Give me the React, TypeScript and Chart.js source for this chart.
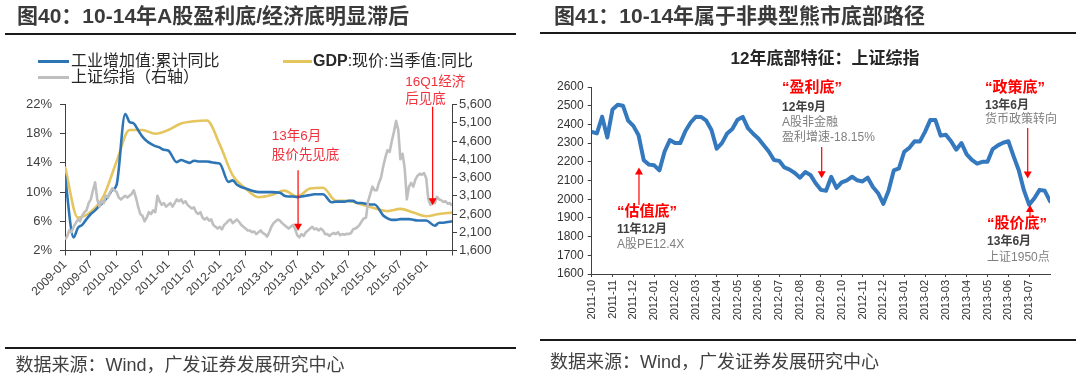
import React, { useEffect, useRef } from "react";
import { Chart, registerables } from "chart.js";

Chart.register(...registerables);

const FONT = "'Liberation Sans', 'Noto Sans CJK SC', sans-serif";

// ---------------- 图40 data (x = months since 2009-01) ----------------
const leftTickLabels = [
  "2009-01", "2009-07", "2010-01", "2010-07", "2011-01", "2011-07", "2012-01", "2012-07",
  "2013-01", "2013-07", "2014-01", "2014-07", "2015-01", "2015-07", "2016-01",
];

// 工业增加值:累计同比 (monthly, %)
const ivaCumYoY: (number | null)[] = [
  12.2, null, 3.8, 5.1, 5.5, 6.3, 7.0, 7.5, 8.1, 8.7, 9.4, 10.3,
  11.0, null, 20.7, 19.6, 19.4, 18.5, 17.6, 17.0, 16.6, 16.3, 16.1, 15.8,
  15.7, null, 14.1, 14.4, 14.2, 14.0, 14.3, 14.2, 14.2, 14.2, 14.1, 14.0,
  13.9, null, 11.4, 11.6, 11.0, 10.7, 10.5, 10.3, 10.1, 10.0, 10.0, 10.0,
  10.0, null, 9.9, 9.5, 9.4, 9.4, 9.3, 9.4, 9.5, 9.6, 9.7, 9.7,
  9.7, null, 8.6, 8.7, 8.7, 8.7, 8.8, 8.8, 8.5, 8.5, 8.4, 8.3,
  8.3, null, 6.8, 6.4, 6.2, 6.2, 6.3, 6.3, 6.3, 6.2, 6.1, 6.1,
  6.1, null, 5.4, 5.8, 5.8, 5.9, 6.0,
];

// GDP:现价:当季值:同比 (quarterly, %), every 3 months
const gdpNominalYoY = [
  13.5, 6.5, 7.3, 9.5, 14.2, 18.5, 18.5, 18.0, 18.5, 19.4, 19.7,
  19.8, 16.5, 12.3, 10.5, 9.3, 9.6, 10.2, 9.4, 10.5, 10.6, 8.8,
  8.8, 8.3, 7.8, 7.4, 7.7, 7.2, 6.7, 7.0, 7.2,
];

// 上证综指 (half-month steps)
const sseHalfMonthly = [
  1900, 1990, 2150, 2100, 2250, 2350, 2450, 2400, 2550, 2650, 2700, 2900,
  3000, 3250, 3470, 3000, 2800, 2950, 2900, 3100, 3050, 3200, 3300, 3250,
  3200, 3050, 3000, 3050, 3100, 3050, 3100, 3150, 3250, 3050, 2800, 2600,
  2550, 2400, 2500, 2650, 2600, 2700, 2650, 3100, 2950, 2850, 2900, 2800,
  2850, 2900, 2800, 2900, 3000, 2950, 3000, 2900, 2950, 2850, 2800, 2750,
  2780, 2650, 2600, 2650, 2500, 2450, 2500, 2420, 2450, 2300, 2250, 2200,
  2250, 2180, 2300, 2350, 2420, 2450, 2350, 2400, 2450, 2380, 2300, 2250,
  2200, 2150, 2150, 2100, 2120, 2050, 2100, 2150, 2080, 2050, 1980, 2100,
  2250, 2350, 2400, 2450, 2420, 2350, 2300, 2250, 2200, 2250, 2300, 2200,
  2020, 1960, 2050, 2000, 2100, 2150, 2200, 2250, 2180, 2200, 2150, 2200,
  2150, 2050, 2050, 2000, 2050, 2080, 2050, 2100, 2020, 2050, 2030, 2060,
  2050, 2080, 2180, 2200, 2240, 2300, 2400, 2480, 2500, 2950, 3150, 3350,
  3250, 3250, 3450, 3600, 3900, 4150, 4350, 4300, 4600, 4850, 5150, 4900,
  4100, 4250, 3850, 3000, 3350, 3450, 3350, 3550, 3650, 3700, 3680, 3720,
  3580, 3000, 2850, 2950, 2900, 3070, 3000, 2980, 2930, 2950, 2880, 2900,
  2830,
];

// ---------------- 图41 data (x = months since 2011-10) ----------------
const rightTickLabels = [
  "2011-10", "2011-11", "2011-12", "2012-01", "2012-02", "2012-03", "2012-04", "2012-05",
  "2012-06", "2012-07", "2012-08", "2012-09", "2012-10", "2012-11", "2012-12", "2013-01",
  "2013-02", "2013-03", "2013-04", "2013-05", "2013-06", "2013-07",
];

// 上证综指 (quarter-month steps)
const sseWeekly = [
  2360, 2352, 2441, 2330, 2480, 2505, 2500, 2420, 2392, 2342, 2208, 2185,
  2181, 2154, 2255, 2316, 2300, 2300, 2365, 2410, 2441, 2440, 2420, 2370,
  2270, 2300, 2351, 2375, 2425, 2440, 2380, 2350, 2325, 2290, 2255, 2210,
  2205, 2170, 2158, 2140, 2115, 2145, 2130, 2085, 2050, 2045, 2120, 2060,
  2090, 2101, 2120, 2101, 2095, 2115, 2065, 2032, 1975, 2045, 2154, 2165,
  2253, 2275, 2310, 2308, 2360, 2423, 2423, 2340, 2345, 2310, 2265, 2300,
  2240, 2210, 2190, 2200, 2200, 2268, 2288, 2302, 2310, 2230, 2155, 2047,
  1970, 2005, 2050, 2045, 1990,
];

// ---------------- annotations ----------------
type Note = { text: string; x: number; y: number; font: string; color: string };
type Arrow = { x: number; from: number; to: number; color: string };

const RED = "#FF0000";
const leftNotes: Note[] = [
  { text: "13年6月", x: 48.1, y: 17.6, font: `13.5px ${FONT}`, color: "#F0323C" },
  { text: "股价先见底", x: 48.1, y: 15.1, font: `13.5px ${FONT}`, color: "#F0323C" },
  { text: "16Q1经济", x: 79.1, y: 25.1, font: `13.5px ${FONT}`, color: "#F0323C" },
  { text: "后见底", x: 79.1, y: 22.75, font: `13.5px ${FONT}`, color: "#F0323C" },
];
const leftArrows: Arrow[] = [
  { x: 54.2, from: 13.0, to: 4.7, color: RED },
  { x: 85.5, from: 21.7, to: 8.2, color: RED },
];

const BIG = `bold 15px ${FONT}`;
const DATE = `bold 12px ${FONT}`;
const DESC = `12px ${FONT}`;
const rightNotes: Note[] = [
  { text: "“估值底”", x: 1.21, y: 1932, font: BIG, color: RED },
  { text: "11年12月", x: 1.21, y: 1835, font: DATE, color: "#404040" },
  { text: "A股PE12.4X", x: 1.21, y: 1755, font: DESC, color: "#7F7F7F" },
  { text: "“盈利底”", x: 9.14, y: 2595, font: BIG, color: RED },
  { text: "12年9月", x: 9.14, y: 2488, font: DATE, color: "#404040" },
  { text: "A股非金融", x: 9.14, y: 2407, font: DESC, color: "#7F7F7F" },
  { text: "盈利增速-18.15%", x: 9.14, y: 2327, font: DESC, color: "#7F7F7F" },
  { text: "“政策底”", x: 18.88, y: 2597, font: BIG, color: RED },
  { text: "13年6月", x: 18.88, y: 2498, font: DATE, color: "#404040" },
  { text: "货币政策转向", x: 18.88, y: 2423, font: DESC, color: "#7F7F7F" },
  { text: "“股价底”", x: 18.98, y: 1867, font: BIG, color: RED },
  { text: "13年6月", x: 18.98, y: 1771, font: DATE, color: "#404040" },
  { text: "上证1950点", x: 18.98, y: 1686, font: DESC, color: "#7F7F7F" },
];
const rightArrows: Arrow[] = [
  { x: 2.27, from: 1969, to: 2170, color: RED },
  { x: 11.04, from: 2279, to: 2112, color: RED },
  { x: 20.93, from: 2381, to: 2111, color: RED },
  { x: 21.04, from: 1905, to: 1969, color: RED },
];

function notesPlugin(id: string, yAxis: string, notes: Note[], arrows: Arrow[]) {
  return {
    id,
    afterDatasetsDraw(chart: any) {
      const ctx: CanvasRenderingContext2D = chart.ctx;
      const xs = chart.scales.x;
      const ys = chart.scales[yAxis];
      ctx.save();
      for (const a of arrows) {
        const px = xs.getPixelForValue(a.x);
        const p1 = ys.getPixelForValue(a.from);
        const p2 = ys.getPixelForValue(a.to);
        const dir = Math.sign(p2 - p1);
        ctx.strokeStyle = a.color;
        ctx.lineWidth = 1.2;
        ctx.beginPath();
        ctx.moveTo(px, p1);
        ctx.lineTo(px, p2 - dir * 5);
        ctx.stroke();
        ctx.fillStyle = a.color;
        ctx.beginPath();
        ctx.moveTo(px, p2);
        ctx.lineTo(px - 4, p2 - dir * 7);
        ctx.lineTo(px + 4, p2 - dir * 7);
        ctx.closePath();
        ctx.fill();
      }
      ctx.textAlign = "left";
      ctx.textBaseline = "middle";
      for (const n of notes) {
        ctx.font = n.font;
        ctx.fillStyle = n.color;
        ctx.fillText(n.text, xs.getPixelForValue(n.x), ys.getPixelForValue(n.y));
      }
      ctx.restore();
    },
  };
}

const BLUE = "#2E75B6";
const GOLD = "#E5C55E";
const GRAY = "#BFBFBF";
const AXIS = "#404040";

function leftConfig(): any {
  const ivaPts = ivaCumYoY
    .map((v, i) => ({ x: i, y: v }))
    .filter((p) => p.y !== null);
  const gdpPts = gdpNominalYoY.map((v, i) => ({ x: i * 3, y: v }));
  const ssePts = sseHalfMonthly.map((v, i) => ({ x: i / 2, y: v }));
  return {
    type: "line",
    data: {
      datasets: [
        {
          label: "工业增加值:累计同比",
          data: ivaPts,
          yAxisID: "y",
          borderColor: BLUE,
          borderWidth: 2.6,
          pointRadius: 0,
          cubicInterpolationMode: "monotone",
          order: 1,
        },
        {
          label: "GDP:现价:当季值:同比",
          data: gdpPts,
          yAxisID: "y",
          borderColor: GOLD,
          borderWidth: 2.6,
          pointRadius: 0,
          cubicInterpolationMode: "monotone",
          order: 2,
        },
        {
          label: "上证综指（右轴）",
          data: ssePts,
          yAxisID: "y1",
          borderColor: GRAY,
          borderWidth: 2.6,
          pointRadius: 0,
          tension: 0,
          borderJoinStyle: "round",
          order: 0,
        },
      ],
    },
    options: {
      responsive: false,
      animation: false,
      devicePixelRatio: 1,
      layout: { padding: { top: 104.5, left: 0, right: 0, bottom: 0 } },
      plugins: { legend: { display: false }, tooltip: { enabled: false } },
      scales: {
        x: {
          type: "linear",
          min: 0,
          max: 90,
          afterBuildTicks: (s: any) => {
            s.ticks = [...leftTickLabels, ""].map((_, i) => ({ value: i * 6 }));
          },
          afterFit: (s: any) => {
            s.height = 125.5;
          },
          grid: { display: true, drawOnChartArea: false, tickLength: 5, color: AXIS },
          border: { display: true, color: AXIS, width: 1 },
          ticks: {
            autoSkip: false,
            minRotation: 45,
            maxRotation: 45,
            padding: 2,
            color: AXIS,
            font: { family: FONT, size: 12 },
            callback: (v: number) => leftTickLabels[Math.round(v / 6)] ?? "",
          },
        },
        y: {
          position: "left",
          min: 2,
          max: 22,
          afterFit: (s: any) => {
            s.width = 65;
          },
          grid: { display: true, drawOnChartArea: false, tickLength: 5, color: AXIS },
          border: { display: true, color: AXIS, width: 1 },
          ticks: {
            stepSize: 4,
            autoSkip: false,
            padding: 8,
            color: AXIS,
            font: { family: FONT, size: 13 },
            callback: (v: number) => v + "%",
          },
        },
        y1: {
          position: "right",
          min: 1600,
          max: 5600,
          afterFit: (s: any) => {
            s.width = 88;
          },
          grid: { display: true, drawOnChartArea: false, tickLength: 5, color: AXIS },
          border: { display: true, color: AXIS, width: 1 },
          ticks: {
            stepSize: 500,
            autoSkip: false,
            padding: 2,
            color: AXIS,
            font: { family: FONT, size: 13 },
            callback: (v: number) => v.toLocaleString("en-US"),
          },
        },
      },
    },
    plugins: [notesPlugin("leftNotes", "y", leftNotes, leftArrows)],
  };
}

function rightConfig(): any {
  const pts = sseWeekly.map((v, i) => ({ x: i * 0.25, y: v }));
  return {
    type: "line",
    data: {
      datasets: [
        {
          label: "上证综指",
          data: pts,
          borderColor: "#3478BE",
          borderWidth: 4,
          pointRadius: 0,
          tension: 0,
          borderJoinStyle: "round",
          borderCapStyle: "round",
        },
      ],
    },
    options: {
      responsive: false,
      animation: false,
      devicePixelRatio: 1,
      layout: { padding: { top: 87, left: 0, right: 30, bottom: 0 } },
      plugins: { legend: { display: false }, tooltip: { enabled: false } },
      scales: {
        x: {
          type: "linear",
          min: 0,
          max: 22,
          afterBuildTicks: (s: any) => {
            s.ticks = rightTickLabels.map((_, i) => ({ value: i }));
          },
          afterFit: (s: any) => {
            s.height = 102;
          },
          grid: { display: true, drawOnChartArea: false, tickLength: 3, color: AXIS },
          border: { display: true, color: AXIS, width: 1 },
          ticks: {
            autoSkip: false,
            minRotation: 90,
            maxRotation: 90,
            padding: 3,
            color: "#333333",
            font: { family: FONT, size: 11 },
            callback: (v: number) => rightTickLabels[Math.round(v)] ?? "",
          },
        },
        y: {
          position: "left",
          min: 1600,
          max: 2600,
          afterFit: (s: any) => {
            s.width = 51.7;
          },
          grid: { display: true, drawOnChartArea: false, tickLength: 4, color: AXIS },
          border: { display: true, color: AXIS, width: 1 },
          ticks: {
            stepSize: 100,
            autoSkip: false,
            padding: 4,
            color: "#333333",
            font: { family: FONT, size: 12 },
            callback: (v: number) => String(v),
          },
        },
      },
    },
    plugins: [notesPlugin("rightNotes", "y", rightNotes, rightArrows)],
  };
}

const abs = (s: React.CSSProperties): React.CSSProperties => ({
  position: "absolute",
  fontFamily: FONT,
  whiteSpace: "nowrap",
  margin: 0,
  ...s,
});

export default function App() {
  const leftRef = useRef<HTMLCanvasElement>(null);
  const rightRef = useRef<HTMLCanvasElement>(null);

  useEffect(() => {
    const l = new Chart(leftRef.current!, leftConfig());
    const r = new Chart(rightRef.current!, rightConfig());
    return () => {
      l.destroy();
      r.destroy();
    };
  }, []);

  return (
    <div
      style={{
        position: "absolute",
        left: 0,
        top: 0,
        width: 1080,
        height: 376,
        background: "#ffffff",
        overflow: "hidden",
      }}
    >
      <canvas
        ref={leftRef}
        width={540}
        height={376}
        style={{ position: "absolute", left: 0, top: 0, width: 540, height: 376 }}
      />
      <canvas
        ref={rightRef}
        width={540}
        height={376}
        style={{ position: "absolute", left: 540, top: 0, width: 540, height: 376 }}
      />

      {/* left panel */}
      <div style={abs({ left: 17, top: 4, fontSize: 21, lineHeight: "24px", fontWeight: 700, color: "#3A3A3A" })}>
        图40：10-14年A股盈利底/经济底明显滞后
      </div>
      <div style={abs({ left: 5, top: 32.5, width: 511, height: 2, background: "#1A1A1A" })} />

      <div style={abs({ left: 38, top: 59.5, width: 31, height: 3, background: BLUE })} />
      <div style={abs({ left: 71, top: 50.5, fontSize: 16, lineHeight: "20px", color: "#262626" })}>
        工业增加值:累计同比
      </div>
      <div style={abs({ left: 283, top: 59.5, width: 29, height: 3, background: GOLD })} />
      <div style={abs({ left: 313, top: 50.5, fontSize: 16, lineHeight: "20px", color: "#262626" })}>
        <span style={{ fontWeight: 700 }}>GDP</span>:现价:当季值:同比
      </div>
      <div style={abs({ left: 38, top: 75.5, width: 31, height: 3, background: GRAY })} />
      <div style={abs({ left: 71, top: 66.7, fontSize: 16, lineHeight: "20px", color: "#262626" })}>
        上证综指（右轴）
      </div>

      <div style={abs({ left: 5, top: 346.5, width: 511, height: 2, background: "#1A1A1A" })} />
      <div style={abs({ left: 15.5, top: 355, fontSize: 18, lineHeight: "20px", color: "#404040" })}>
        数据来源：Wind，广发证券发展研究中心
      </div>

      {/* right panel */}
      <div style={abs({ left: 554, top: 4, fontSize: 21, lineHeight: "24px", fontWeight: 700, color: "#3A3A3A" })}>
        图41：10-14年属于非典型熊市底部路径
      </div>
      <div style={abs({ left: 540, top: 32, width: 536, height: 2, background: "#1A1A1A" })} />
      <div
        style={abs({
          left: 675,
          width: 300,
          top: 47.5,
          fontSize: 17,
          lineHeight: "22px",
          fontWeight: 700,
          color: "#262626",
          textAlign: "center",
        })}
      >
        12年底部特征：上证综指
      </div>
      <div style={abs({ left: 540, top: 339, width: 536, height: 2, background: "#1A1A1A" })} />
      <div style={abs({ left: 550, top: 352, fontSize: 18, lineHeight: "20px", color: "#404040" })}>
        数据来源：Wind，广发证券发展研究中心
      </div>
    </div>
  );
}
